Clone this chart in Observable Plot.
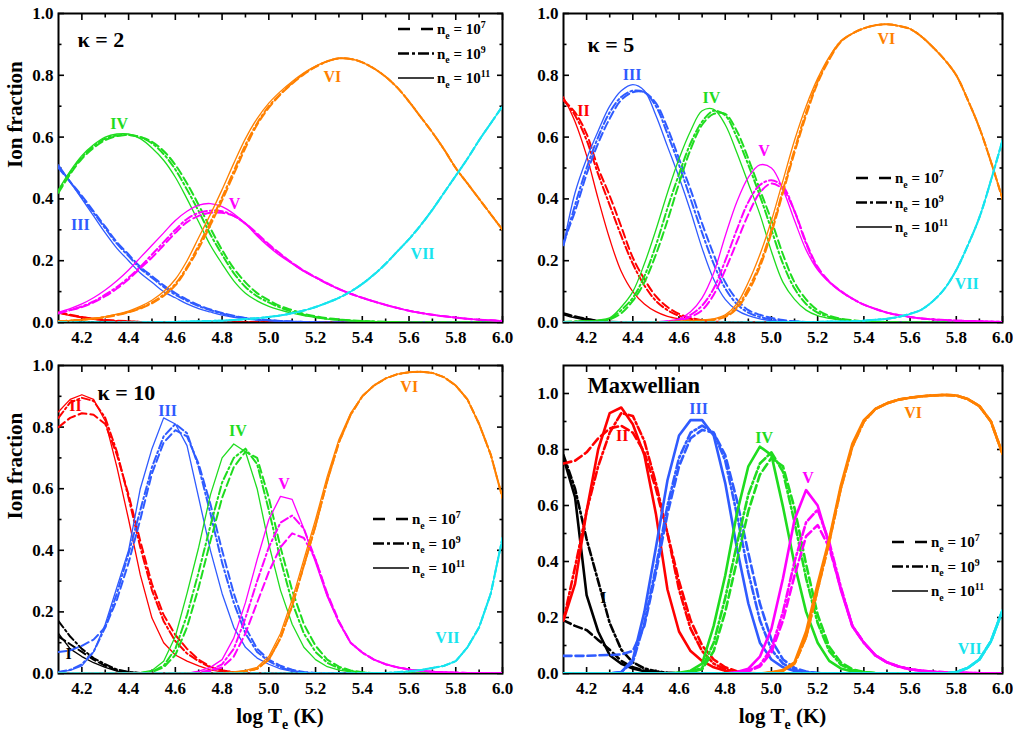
<!DOCTYPE html>
<html><head><meta charset="utf-8">
<script src="https://cdn.jsdelivr.net/npm/d3@7"></script>
<script src="https://cdn.jsdelivr.net/npm/@observablehq/plot@0.6"></script>
<style>
body{margin:0;background:#fff;}
#fig{position:relative;width:1013px;height:731px;overflow:hidden;}
#fig svg{position:absolute;overflow:visible;}
</style></head><body><div id="fig"></div>
<script>
// ---------- shared grid (log T_e) ----------
const logT = [4.10,4.15,4.20,4.25,4.30,4.35,4.40,4.45,4.50,4.55,4.60,4.65,4.70,4.75,4.80,4.85,4.90,4.95,5.00,5.05,5.10,5.15,5.20,5.25,5.30,5.35,5.40,5.45,5.50,5.55,5.60,5.65,5.70,5.75,5.80,5.85,5.90,5.95,6.00];
const xMajor = [4.2,4.4,4.6,4.8,5.0,5.2,5.4,5.6,5.8,6.0];
const xMinor = [4.3,4.5,4.7,4.9,5.1,5.3,5.5,5.7,5.9];
const yMajor = [0,0.2,0.4,0.6,0.8,1.0];
const yMinor = [0.1,0.3,0.5,0.7,0.9];
const ions = ["I","II","III","IV","V","VI","VII"];
const densities = ["n7","n9","n11"];
const densityExp = ["7","9","11"];

// ---------- kappa = 2 ----------
const k2_I = [0.004,0.003,0.002,0.001,0,0,0,0,0,0, 0,0,0,0,0,0,0,0,0,0, 0,0,0,0,0,0,0,0,0,0, 0,0,0,0,0,0,0,0,0];
const k2_II_n7 = [0.033,0.025,0.018,0.012,0.008,0.006,0.004,0.002,0.001,0, 0,0,0,0,0,0,0,0,0,0, 0,0,0,0,0,0,0,0,0,0, 0,0,0,0,0,0,0,0,0];
const k2_II_n9 = [0.032,0.024,0.017,0.012,0.008,0.005,0.003,0.002,0.001,0, 0,0,0,0,0,0,0,0,0,0, 0,0,0,0,0,0,0,0,0,0, 0,0,0,0,0,0,0,0,0];
const k2_II_n11 = [0.030,0.022,0.015,0.010,0.007,0.005,0.003,0.002,0.001,0, 0,0,0,0,0,0,0,0,0,0, 0,0,0,0,0,0,0,0,0,0, 0,0,0,0,0,0,0,0,0];
const k2_III_n7 = [0.50,0.455,0.41,0.36,0.31,0.26,0.22,0.18,0.15,0.12, 0.095,0.074,0.056,0.042,0.031,0.022,0.015,0.011,0.008,0.005, 0.003,0.002,0.001,0,0,0,0,0,0,0, 0,0,0,0,0,0,0,0,0];
const k2_III_n9 = [0.505,0.455,0.405,0.355,0.305,0.255,0.215,0.175,0.145,0.115, 0.09,0.07,0.053,0.04,0.029,0.02,0.014,0.01,0.007,0.005, 0.003,0.002,0.001,0,0,0,0,0,0,0, 0,0,0,0,0,0,0,0,0];
const k2_III_n11 = [0.51,0.455,0.40,0.345,0.29,0.24,0.20,0.16,0.13,0.10, 0.08,0.06,0.045,0.034,0.024,0.017,0.012,0.008,0.006,0.004, 0.003,0.002,0.001,0,0,0,0,0,0,0, 0,0,0,0,0,0,0,0,0];
const k2_IV_n7 = [0.42,0.48,0.53,0.565,0.59,0.603,0.607,0.60,0.585,0.555, 0.51,0.45,0.38,0.305,0.235,0.175,0.13,0.095,0.072,0.053, 0.04,0.028,0.02,0.014,0.01,0.007,0.005,0.003,0.002,0.001, 0,0,0,0,0,0,0,0,0];
const k2_IV_n9 = [0.425,0.485,0.535,0.57,0.595,0.605,0.607,0.60,0.58,0.545, 0.495,0.43,0.36,0.285,0.22,0.16,0.115,0.085,0.065,0.048, 0.035,0.025,0.018,0.012,0.009,0.006,0.004,0.003,0.002,0.001, 0,0,0,0,0,0,0,0,0];
const k2_IV_n11 = [0.43,0.49,0.54,0.575,0.60,0.61,0.61,0.595,0.565,0.525, 0.47,0.40,0.325,0.25,0.19,0.135,0.095,0.07,0.052,0.04, 0.03,0.022,0.016,0.011,0.008,0.006,0.004,0.003,0.002,0.001, 0,0,0,0,0,0,0,0,0];
const k2_V_n7 = [0.03,0.04,0.05,0.065,0.085,0.11,0.14,0.175,0.21,0.25, 0.29,0.325,0.345,0.355,0.355,0.345,0.32,0.288,0.253,0.222, 0.193,0.168,0.147,0.127,0.109,0.093,0.08,0.068,0.057,0.047, 0.038,0.031,0.025,0.02,0.016,0.012,0.009,0.007,0.005];
const k2_V_n9 = [0.03,0.04,0.052,0.068,0.09,0.115,0.145,0.18,0.22,0.26, 0.30,0.335,0.355,0.362,0.36,0.345,0.32,0.285,0.25,0.22, 0.192,0.167,0.146,0.126,0.108,0.093,0.08,0.068,0.057,0.047, 0.038,0.031,0.025,0.02,0.016,0.012,0.009,0.007,0.005];
const k2_V_n11 = [0.033,0.045,0.06,0.08,0.105,0.135,0.17,0.21,0.25,0.29, 0.33,0.36,0.38,0.385,0.375,0.352,0.32,0.28,0.245,0.215, 0.19,0.165,0.145,0.125,0.108,0.093,0.08,0.068,0.057,0.047, 0.038,0.031,0.025,0.02,0.016,0.012,0.009,0.007,0.005];
const k2_VI_n7 = [0.004,0.006,0.009,0.012,0.017,0.024,0.033,0.045,0.062,0.086, 0.12,0.175,0.24,0.315,0.395,0.48,0.565,0.64,0.695,0.738, 0.773,0.803,0.827,0.845,0.855,0.853,0.842,0.822,0.795,0.76, 0.715,0.665,0.615,0.56,0.50,0.45,0.40,0.35,0.30];
const k2_VI_n9 = [0.004,0.006,0.009,0.013,0.018,0.025,0.034,0.047,0.065,0.09, 0.125,0.18,0.25,0.325,0.405,0.49,0.575,0.645,0.70,0.74, 0.775,0.805,0.828,0.845,0.855,0.853,0.842,0.822,0.795,0.76, 0.715,0.665,0.615,0.56,0.50,0.45,0.40,0.35,0.30];
const k2_VI_n11 = [0.004,0.006,0.009,0.013,0.019,0.027,0.037,0.052,0.072,0.10, 0.14,0.20,0.275,0.35,0.43,0.515,0.595,0.66,0.71,0.748, 0.78,0.808,0.83,0.846,0.855,0.853,0.842,0.822,0.795,0.76, 0.715,0.665,0.615,0.56,0.50,0.45,0.40,0.35,0.30];
const k2_VII = [0,0,0,0,0,0,0,0,0.001,0.001, 0.002,0.003,0.004,0.005,0.006,0.008,0.011,0.014,0.018,0.023, 0.03,0.039,0.05,0.064,0.08,0.10,0.125,0.155,0.19,0.23, 0.27,0.315,0.365,0.42,0.475,0.53,0.59,0.645,0.70];
const k2_labels = [["IV",4.36,0.644],["III",4.194,0.317],["V",4.853,0.385],["VI",5.272,0.796],["VII",5.658,0.223]];

// ---------- kappa = 5 ----------
const k5_I_n7 = [0.03,0.02,0.012,0.006,0.003,0.001,0,0,0,0, 0,0,0,0,0,0,0,0,0,0, 0,0,0,0,0,0,0,0,0,0, 0,0,0,0,0,0,0,0,0];
const k5_I_n9 = [0.028,0.018,0.011,0.005,0.002,0.001,0,0,0,0, 0,0,0,0,0,0,0,0,0,0, 0,0,0,0,0,0,0,0,0,0, 0,0,0,0,0,0,0,0,0];
const k5_I_n11 = [0.025,0.015,0.008,0.004,0.002,0.001,0,0,0,0, 0,0,0,0,0,0,0,0,0,0, 0,0,0,0,0,0,0,0,0,0, 0,0,0,0,0,0,0,0,0];
const k5_II_n7 = [0.72,0.68,0.61,0.50,0.41,0.31,0.21,0.14,0.085,0.05, 0.028,0.015,0.007,0.003,0.001,0,0,0,0,0, 0,0,0,0,0,0,0,0,0,0, 0,0,0,0,0,0,0,0,0];
const k5_II_n9 = [0.72,0.67,0.59,0.48,0.38,0.28,0.19,0.12,0.07,0.04, 0.022,0.012,0.006,0.003,0.001,0,0,0,0,0, 0,0,0,0,0,0,0,0,0,0, 0,0,0,0,0,0,0,0,0];
const k5_II_n11 = [0.73,0.65,0.54,0.40,0.27,0.165,0.10,0.06,0.035,0.02, 0.012,0.007,0.004,0.002,0.001,0,0,0,0,0, 0,0,0,0,0,0,0,0,0,0, 0,0,0,0,0,0,0,0,0];
const k5_III_n7 = [0.26,0.36,0.48,0.58,0.66,0.72,0.745,0.745,0.71,0.63, 0.53,0.43,0.32,0.22,0.13,0.075,0.04,0.025,0.015,0.008, 0.004,0.002,0.001,0,0,0,0,0,0,0, 0,0,0,0,0,0,0,0,0];
const k5_III_n9 = [0.25,0.38,0.50,0.60,0.68,0.73,0.75,0.745,0.70,0.61, 0.51,0.40,0.29,0.19,0.11,0.06,0.032,0.018,0.01,0.005, 0.003,0.001,0,0,0,0,0,0,0,0, 0,0,0,0,0,0,0,0,0];
const k5_III_n11 = [0.25,0.42,0.53,0.62,0.70,0.75,0.77,0.75,0.67,0.57, 0.47,0.36,0.24,0.14,0.075,0.04,0.022,0.012,0.006,0.003, 0.002,0.001,0,0,0,0,0,0,0,0, 0,0,0,0,0,0,0,0,0];
const k5_IV_n7 = [0.002,0.003,0.004,0.005,0.01,0.03,0.07,0.13,0.22,0.33, 0.45,0.56,0.64,0.675,0.675,0.62,0.53,0.43,0.33,0.22, 0.13,0.075,0.04,0.022,0.012,0.007,0.004,0.002,0.001,0, 0,0,0,0,0,0,0,0,0];
const k5_IV_n9 = [0.002,0.003,0.004,0.006,0.012,0.04,0.08,0.15,0.25,0.37, 0.48,0.58,0.65,0.685,0.67,0.60,0.51,0.41,0.30,0.19, 0.11,0.06,0.032,0.018,0.01,0.006,0.004,0.002,0.001,0, 0,0,0,0,0,0,0,0,0];
const k5_IV_n11 = [0.002,0.003,0.005,0.008,0.015,0.05,0.10,0.19,0.30,0.42, 0.53,0.62,0.685,0.69,0.64,0.55,0.45,0.35,0.23,0.13, 0.075,0.04,0.022,0.013,0.008,0.005,0.003,0.002,0.001,0, 0,0,0,0,0,0,0,0,0];
const k5_V_n7 = [0,0,0,0,0,0,0,0,0.001,0.002, 0.006,0.018,0.04,0.09,0.17,0.26,0.35,0.42,0.45,0.43, 0.36,0.26,0.18,0.133,0.102,0.077,0.058,0.044,0.032,0.024, 0.018,0.013,0.01,0.008,0.006,0.005,0.004,0.003,0.002];
const k5_V_n9 = [0,0,0,0,0,0,0,0,0.001,0.003, 0.008,0.025,0.055,0.11,0.20,0.30,0.39,0.445,0.46,0.44, 0.36,0.255,0.175,0.132,0.101,0.077,0.058,0.044,0.032,0.024, 0.018,0.013,0.01,0.008,0.006,0.005,0.004,0.003,0.002];
const k5_V_n11 = [0,0,0,0,0,0,0,0,0.002,0.005, 0.012,0.035,0.08,0.16,0.28,0.39,0.47,0.51,0.50,0.43, 0.33,0.235,0.17,0.13,0.10,0.077,0.058,0.044,0.032,0.024, 0.018,0.013,0.01,0.008,0.006,0.005,0.004,0.003,0.002];
const k5_VI_n7 = [0,0,0,0,0,0,0,0,0.001,0.002, 0.003,0.004,0.006,0.009,0.018,0.045,0.10,0.18,0.29,0.42, 0.55,0.67,0.775,0.85,0.908,0.935,0.952,0.962,0.965,0.96, 0.95,0.925,0.89,0.85,0.80,0.72,0.63,0.52,0.40];
const k5_VI_n9 = [0,0,0,0,0,0,0,0,0.001,0.002, 0.003,0.005,0.007,0.01,0.02,0.05,0.11,0.19,0.30,0.43, 0.56,0.68,0.78,0.855,0.91,0.935,0.952,0.962,0.965,0.96, 0.95,0.925,0.89,0.85,0.80,0.72,0.63,0.52,0.40];
const k5_VI_n11 = [0,0,0,0,0,0,0,0,0.001,0.002, 0.003,0.005,0.008,0.012,0.025,0.06,0.13,0.22,0.33,0.46, 0.59,0.70,0.79,0.86,0.91,0.935,0.952,0.962,0.965,0.96, 0.95,0.925,0.89,0.85,0.80,0.72,0.63,0.52,0.40];
const k5_VII = [0,0,0,0,0,0,0,0,0,0, 0,0,0,0,0,0,0,0,0.001,0.001, 0.002,0.002,0.002,0.003,0.003,0.004,0.006,0.009,0.012,0.018, 0.028,0.042,0.07,0.11,0.17,0.25,0.34,0.46,0.59];
const k5_labels = [["II",4.186,0.686],["III",4.397,0.80],["IV",4.74,0.728],["V",4.968,0.557],["VI",5.497,0.919],["VII",5.845,0.126]];

// ---------- kappa = 10 ----------
const k10_I_n7 = [0.12,0.095,0.07,0.045,0.025,0.01,0.004,0.001,0,0, 0,0,0,0,0,0,0,0,0,0, 0,0,0,0,0,0,0,0,0,0, 0,0,0,0,0,0,0,0,0];
const k10_I_n9 = [0.17,0.12,0.08,0.05,0.03,0.013,0.005,0.002,0,0, 0,0,0,0,0,0,0,0,0,0, 0,0,0,0,0,0,0,0,0,0, 0,0,0,0,0,0,0,0,0];
const k10_I_n11 = [0.13,0.08,0.055,0.035,0.02,0.008,0.003,0.001,0,0, 0,0,0,0,0,0,0,0,0,0, 0,0,0,0,0,0,0,0,0,0, 0,0,0,0,0,0,0,0,0];
const k10_II_n7 = [0.80,0.83,0.845,0.84,0.81,0.71,0.58,0.43,0.29,0.19, 0.125,0.08,0.045,0.022,0.01,0.004,0.001,0,0,0, 0,0,0,0,0,0,0,0,0,0, 0,0,0,0,0,0,0,0,0];
const k10_II_n9 = [0.83,0.88,0.895,0.885,0.83,0.72,0.57,0.41,0.27,0.17, 0.105,0.065,0.04,0.02,0.01,0.004,0.001,0,0,0, 0,0,0,0,0,0,0,0,0,0, 0,0,0,0,0,0,0,0,0];
const k10_II_n11 = [0.85,0.89,0.905,0.89,0.82,0.67,0.50,0.32,0.18,0.10, 0.06,0.04,0.025,0.012,0.005,0.002,0,0,0,0, 0,0,0,0,0,0,0,0,0,0, 0,0,0,0,0,0,0,0,0];
const k10_III_n7 = [0.07,0.075,0.09,0.11,0.15,0.24,0.36,0.50,0.65,0.75, 0.79,0.77,0.68,0.55,0.40,0.26,0.15,0.08,0.045,0.025, 0.012,0.005,0.002,0,0,0,0,0,0,0, 0,0,0,0,0,0,0,0,0];
const k10_III_n9 = [0.005,0.012,0.03,0.07,0.15,0.26,0.39,0.53,0.67,0.77, 0.81,0.78,0.67,0.52,0.36,0.23,0.13,0.07,0.04,0.02, 0.008,0.003,0.001,0,0,0,0,0,0,0, 0,0,0,0,0,0,0,0,0];
const k10_III_n11 = [0.005,0.01,0.025,0.07,0.16,0.28,0.40,0.60,0.73,0.83, 0.81,0.74,0.57,0.40,0.26,0.15,0.085,0.05,0.03,0.015, 0.007,0.003,0.001,0,0,0,0,0,0,0, 0,0,0,0,0,0,0,0,0];
const k10_IV_n7 = [0,0,0,0,0,0,0,0.001,0.005,0.02, 0.06,0.15,0.28,0.43,0.57,0.67,0.72,0.70,0.57,0.41, 0.27,0.16,0.09,0.045,0.022,0.01,0.004,0.001,0,0, 0,0,0,0,0,0,0,0,0];
const k10_IV_n9 = [0,0,0,0,0,0,0,0.002,0.006,0.025, 0.08,0.19,0.33,0.48,0.62,0.70,0.73,0.68,0.53,0.37, 0.23,0.13,0.07,0.035,0.017,0.008,0.003,0.001,0,0, 0,0,0,0,0,0,0,0,0];
const k10_IV_n11 = [0,0,0,0,0,0,0,0.003,0.01,0.04, 0.12,0.26,0.41,0.58,0.70,0.745,0.72,0.60,0.42,0.27, 0.16,0.085,0.045,0.022,0.011,0.005,0.002,0,0,0, 0,0,0,0,0,0,0,0,0];
const k10_V_n7 = [0,0,0,0,0,0,0,0,0,0, 0,0,0.003,0.008,0.02,0.055,0.13,0.23,0.33,0.41, 0.455,0.44,0.37,0.26,0.17,0.10,0.068,0.045,0.03,0.02, 0.013,0.009,0.006,0.004,0.003,0.002,0.002,0.001,0.001];
const k10_V_n9 = [0,0,0,0,0,0,0,0,0,0, 0,0,0.004,0.01,0.03,0.08,0.18,0.30,0.41,0.49, 0.513,0.47,0.37,0.255,0.167,0.10,0.068,0.045,0.03,0.02, 0.013,0.009,0.006,0.004,0.003,0.002,0.002,0.001,0.001];
const k10_V_n11 = [0,0,0,0,0,0,0,0,0,0, 0,0,0.008,0.02,0.045,0.115,0.23,0.37,0.50,0.575, 0.565,0.47,0.36,0.25,0.165,0.10,0.068,0.045,0.03,0.02, 0.013,0.009,0.006,0.004,0.003,0.002,0.002,0.001,0.001];
const k10_VI_n7 = [0,0,0,0,0,0,0,0,0,0, 0,0,0,0,0.001,0.003,0.007,0.015,0.045,0.115, 0.22,0.35,0.48,0.625,0.75,0.84,0.90,0.935,0.958,0.972, 0.978,0.98,0.976,0.962,0.935,0.89,0.81,0.71,0.57];
const k10_VI_n9 = [0,0,0,0,0,0,0,0,0,0, 0,0,0,0,0.001,0.003,0.007,0.015,0.045,0.115, 0.22,0.35,0.48,0.625,0.75,0.84,0.90,0.935,0.958,0.972, 0.978,0.98,0.976,0.962,0.935,0.89,0.81,0.71,0.57];
const k10_VI_n11 = [0,0,0,0,0,0,0,0,0,0, 0,0,0,0,0.002,0.005,0.01,0.02,0.055,0.13, 0.24,0.37,0.50,0.64,0.76,0.845,0.90,0.935,0.958,0.972, 0.978,0.98,0.976,0.962,0.935,0.89,0.81,0.71,0.57];
const k10_VII = [0,0,0,0,0,0,0,0,0,0, 0,0,0,0,0,0,0,0,0,0, 0,0,0,0,0,0,0.001,0.001,0.002,0.004, 0.007,0.011,0.018,0.025,0.04,0.085,0.15,0.26,0.44];
const k10_labels = [["I",4.143,0.065],["II",4.173,0.87],["III",4.567,0.854],["IV",4.868,0.789],["V",5.065,0.617],["VI",5.601,0.929],["VII",5.764,0.117]];

// ---------- Maxwellian ----------
const mx_I_n7 = [0.19,0.17,0.155,0.12,0.085,0.045,0.022,0.01,0.004,0.001, 0,0,0,0,0,0,0,0,0,0, 0,0,0,0,0,0,0,0,0,0, 0,0,0,0,0,0,0,0,0];
const mx_I_n9 = [0.78,0.66,0.48,0.33,0.18,0.085,0.04,0.018,0.008,0.003, 0.001,0,0,0,0,0,0,0,0,0, 0,0,0,0,0,0,0,0,0,0, 0,0,0,0,0,0,0,0,0];
const mx_I_n11 = [0.77,0.63,0.28,0.15,0.065,0.035,0.018,0.008,0.003,0.001, 0,0,0,0,0,0,0,0,0,0, 0,0,0,0,0,0,0,0,0,0, 0,0,0,0,0,0,0,0,0];
const mx_II_n7 = [0.75,0.76,0.79,0.84,0.875,0.885,0.86,0.79,0.66,0.50, 0.33,0.19,0.10,0.05,0.022,0.008,0.002,0,0,0, 0,0,0,0,0,0,0,0,0,0, 0,0,0,0,0,0,0,0,0];
const mx_II_n9 = [0.19,0.38,0.58,0.74,0.86,0.93,0.92,0.83,0.68,0.50, 0.30,0.16,0.08,0.035,0.015,0.005,0.002,0,0,0, 0,0,0,0,0,0,0,0,0,0, 0,0,0,0,0,0,0,0,0];
const mx_II_n11 = [0.19,0.32,0.58,0.80,0.93,0.95,0.89,0.78,0.57,0.30, 0.15,0.08,0.045,0.022,0.01,0.004,0.001,0,0,0, 0,0,0,0,0,0,0,0,0,0, 0,0,0,0,0,0,0,0,0];
const mx_III_n7 = [0.063,0.063,0.063,0.065,0.066,0.068,0.08,0.17,0.36,0.57, 0.74,0.84,0.87,0.86,0.78,0.62,0.43,0.25,0.12,0.05, 0.02,0.007,0.002,0,0,0,0,0,0,0, 0,0,0,0,0,0,0,0,0];
const mx_III_n9 = [0,0,0,0,0,0.005,0.04,0.18,0.38,0.60, 0.77,0.86,0.885,0.86,0.76,0.57,0.36,0.19,0.085,0.035, 0.013,0.004,0.001,0,0,0,0,0,0,0, 0,0,0,0,0,0,0,0,0];
const mx_III_n11 = [0,0,0,0,0,0.005,0.05,0.22,0.45,0.69, 0.85,0.905,0.905,0.85,0.68,0.45,0.25,0.11,0.05,0.022, 0.009,0.003,0.001,0,0,0,0,0,0,0, 0,0,0,0,0,0,0,0,0];
const mx_IV_n7 = [0,0,0,0,0,0,0,0,0,0, 0.001,0.005,0.015,0.08,0.22,0.40,0.58,0.71,0.77,0.74, 0.59,0.39,0.21,0.095,0.04,0.015,0.005,0.001,0,0, 0,0,0,0,0,0,0,0,0];
const mx_IV_n9 = [0,0,0,0,0,0,0,0,0,0, 0.001,0.006,0.02,0.11,0.27,0.46,0.64,0.75,0.79,0.72, 0.54,0.34,0.18,0.08,0.032,0.012,0.004,0.001,0,0, 0,0,0,0,0,0,0,0,0];
const mx_IV_n11 = [0,0,0,0,0,0,0,0,0,0, 0.003,0.01,0.035,0.17,0.35,0.57,0.74,0.81,0.78,0.595, 0.39,0.22,0.11,0.045,0.018,0.007,0.003,0.001,0,0, 0,0,0,0,0,0,0,0,0];
const mx_V_n7 = [0,0,0,0,0,0,0,0,0,0, 0,0,0,0,0,0.002,0.008,0.025,0.075,0.19, 0.35,0.49,0.53,0.45,0.305,0.17,0.11,0.065,0.04,0.025, 0.015,0.01,0.006,0.004,0.003,0.002,0.001,0,0];
const mx_V_n9 = [0,0,0,0,0,0,0,0,0,0, 0,0,0,0,0,0.003,0.01,0.03,0.09,0.22, 0.40,0.54,0.585,0.47,0.31,0.17,0.11,0.065,0.04,0.025, 0.015,0.01,0.006,0.004,0.003,0.002,0.001,0,0];
const mx_V_n11 = [0,0,0,0,0,0,0,0,0,0, 0,0,0,0,0,0.005,0.017,0.06,0.16,0.34, 0.55,0.655,0.60,0.46,0.30,0.17,0.11,0.065,0.04,0.025, 0.015,0.01,0.006,0.004,0.003,0.002,0.001,0,0];
const mx_VI_n7 = [0,0,0,0,0,0,0,0,0,0, 0,0,0,0,0,0,0,0,0.003,0.01, 0.035,0.13,0.30,0.47,0.66,0.81,0.90,0.945,0.965,0.978, 0.985,0.99,0.993,0.995,0.993,0.98,0.955,0.90,0.785];
const mx_VI_n9 = [0,0,0,0,0,0,0,0,0,0, 0,0,0,0,0,0,0,0,0.003,0.01, 0.035,0.13,0.30,0.47,0.66,0.81,0.90,0.945,0.965,0.978, 0.985,0.99,0.993,0.995,0.993,0.98,0.955,0.90,0.785];
const mx_VI_n11 = [0,0,0,0,0,0,0,0,0,0, 0,0,0,0,0,0,0,0,0.004,0.012, 0.04,0.15,0.32,0.48,0.67,0.82,0.905,0.945,0.965,0.978, 0.985,0.99,0.993,0.995,0.993,0.98,0.955,0.90,0.785];
const mx_VII = [0,0,0,0,0,0,0,0,0,0, 0,0,0,0,0,0,0,0,0,0, 0,0,0,0,0,0,0,0,0,0, 0,0,0,0,0.005,0.02,0.05,0.115,0.225];
const mx_labels = [["I",4.272,0.271],["II",4.354,0.85],["III",4.685,0.946],["IV",4.968,0.843],["V",5.158,0.70],["VI",5.613,0.932],["VII",5.858,0.089]];

// ---------- series tables ----------
const k2_series = [["I","n7",k2_I],["I","n9",k2_I],["I","n11",k2_I],["II","n7",k2_II_n7],["II","n9",k2_II_n9],["II","n11",k2_II_n11],["III","n7",k2_III_n7],["III","n9",k2_III_n9],["III","n11",k2_III_n11],["IV","n7",k2_IV_n7],["IV","n9",k2_IV_n9],["IV","n11",k2_IV_n11],["V","n7",k2_V_n7],["V","n9",k2_V_n9],["V","n11",k2_V_n11],["VI","n7",k2_VI_n7],["VI","n9",k2_VI_n9],["VI","n11",k2_VI_n11],["VII","n7",k2_VII],["VII","n9",k2_VII],["VII","n11",k2_VII]];
const k5_series = [["I","n7",k5_I_n7],["I","n9",k5_I_n9],["I","n11",k5_I_n11],["II","n7",k5_II_n7],["II","n9",k5_II_n9],["II","n11",k5_II_n11],["III","n7",k5_III_n7],["III","n9",k5_III_n9],["III","n11",k5_III_n11],["IV","n7",k5_IV_n7],["IV","n9",k5_IV_n9],["IV","n11",k5_IV_n11],["V","n7",k5_V_n7],["V","n9",k5_V_n9],["V","n11",k5_V_n11],["VI","n7",k5_VI_n7],["VI","n9",k5_VI_n9],["VI","n11",k5_VI_n11],["VII","n7",k5_VII],["VII","n9",k5_VII],["VII","n11",k5_VII]];
const k10_series = [["I","n7",k10_I_n7],["I","n9",k10_I_n9],["I","n11",k10_I_n11],["II","n7",k10_II_n7],["II","n9",k10_II_n9],["II","n11",k10_II_n11],["III","n7",k10_III_n7],["III","n9",k10_III_n9],["III","n11",k10_III_n11],["IV","n7",k10_IV_n7],["IV","n9",k10_IV_n9],["IV","n11",k10_IV_n11],["V","n7",k10_V_n7],["V","n9",k10_V_n9],["V","n11",k10_V_n11],["VI","n7",k10_VI_n7],["VI","n9",k10_VI_n9],["VI","n11",k10_VI_n11],["VII","n7",k10_VII],["VII","n9",k10_VII],["VII","n11",k10_VII]];
const mx_series = [["I","n7",mx_I_n7],["I","n9",mx_I_n9],["I","n11",mx_I_n11],["II","n7",mx_II_n7],["II","n9",mx_II_n9],["II","n11",mx_II_n11],["III","n7",mx_III_n7],["III","n9",mx_III_n9],["III","n11",mx_III_n11],["IV","n7",mx_IV_n7],["IV","n9",mx_IV_n9],["IV","n11",mx_IV_n11],["V","n7",mx_V_n7],["V","n9",mx_V_n9],["V","n11",mx_V_n11],["VI","n7",mx_VI_n7],["VI","n9",mx_VI_n9],["VI","n11",mx_VI_n11],["VII","n7",mx_VII],["VII","n9",mx_VII],["VII","n11",mx_VII]];

// ---------- styles ----------
const FONT = "'Liberation Serif','Times New Roman',serif";
const ionColor = {I:"#000000",II:"#ff0000",III:"#2f5bff",IV:"#1fdc1f",V:"#ff00ff",VI:"#ff8000",VII:"#17e4ee"};
const curveDash = {n7:"8,4", n9:"8,3,2,3", n11:null};
const legendDash = {n7:"12,11", n9:"11,3,3,3", n11:null};

const panels = [
  {series:k2_series, labels:k2_labels, title:"κ = 2", left:0, top:0, width:506, height:350, mt:13, mr:4, mb:28, ml:58, yMax:1.0, curve:"catmull-rom", wSolid:1.3, wDash:2.0, titleSize:22, titleDx:19, titleDy:26, yTitle:true, xTitle:false, legDx:104, legDy:16},
  {series:k5_series, labels:k5_labels, title:"κ = 5", left:506, top:0, width:507, height:350, mt:13, mr:11, mb:28, ml:57, yMax:1.0, curve:"catmull-rom", wSolid:1.3, wDash:2.0, titleSize:22, titleDx:24, titleDy:31, yTitle:false, xTitle:false, legDx:146, legDy:165},
  {series:k10_series, labels:k10_labels, title:"κ = 10", left:0, top:350, width:506, height:381, mt:15, mr:4, mb:58, ml:58, yMax:1.0, curve:"linear", wSolid:1.3, wDash:2.0, titleSize:22, titleDx:39, titleDy:27, yTitle:true, xTitle:true, legDx:129, legDy:154},
  {series:mx_series, labels:mx_labels, title:"Maxwellian", left:506, top:350, width:507, height:381, mt:15, mr:11, mb:58, ml:57, yMax:1.1, curve:"linear", wSolid:2.6, wDash:2.6, titleSize:22.5, titleDx:24, titleDy:20, yTitle:false, xTitle:true, legDx:110, legDy:177}
];

const fig = document.getElementById("fig");
const fmt = d3.format(".1f");
const blank = () => "";

function richText(parent, x, y, parts, size, anchor) {
  const t = parent.append("text").attr("x", x).attr("y", y)
    .attr("font-family", FONT).attr("font-weight", "bold").attr("font-size", size)
    .attr("fill", "black").attr("text-anchor", anchor || "start");
  let shift = 0;
  parts.forEach(([s, kind]) => {
    const target = kind === "sub" ? size * 0.3 : kind === "sup" ? -size * 0.4 : 0;
    const ts = t.append("tspan").attr("dy", target - shift).text(s);
    if (kind) ts.attr("font-size", size * 0.66);
    shift = target;
  });
  return t;
}

panels.forEach(p => {
  const tick = {stroke:"black", strokeWidth:1.6, label:null};
  const marks = [
    Plot.frame({stroke:"black", strokeWidth:2}),
    Plot.axisX({ticks:xMajor, anchor:"bottom", tickSize:-6, tickFormat:blank, ...tick}),
    Plot.axisX({ticks:xMinor, anchor:"bottom", tickSize:-3.5, tickFormat:blank, ...tick}),
    Plot.axisX({ticks:xMajor, anchor:"top", tickSize:-6, tickFormat:blank, ...tick}),
    Plot.axisX({ticks:xMinor, anchor:"top", tickSize:-3.5, tickFormat:blank, ...tick}),
    Plot.axisY({ticks:yMajor, anchor:"left", tickSize:-6, tickFormat:blank, ...tick}),
    Plot.axisY({ticks:yMinor, anchor:"left", tickSize:-3.5, tickFormat:blank, ...tick}),
    Plot.axisY({ticks:yMajor, anchor:"right", tickSize:-6, tickFormat:blank, ...tick}),
    Plot.axisY({ticks:yMinor, anchor:"right", tickSize:-3.5, tickFormat:blank, ...tick})
  ];
  p.series.forEach(([ion, ne, vals]) => {
    const rows = logT.map((x, i) => ({x, y: vals[i]}));
    const opts = {x:"x", y:"y", stroke: ionColor[ion], strokeWidth: ne === "n11" ? p.wSolid : p.wDash, curve: p.curve, clip: true};
    if (curveDash[ne]) opts.strokeDasharray = curveDash[ne];
    marks.push(Plot.line(rows, opts));
  });
  p.labels.forEach(([name, x, y]) => {
    marks.push(Plot.text([name], {x: () => x, y: () => y, text: d => d, fill: ionColor[name], fontSize: 16, fontWeight: "bold"}));
  });
  marks.push(Plot.text([p.title], {frameAnchor:"top-left", dx:p.titleDx, dy:p.titleDy, textAnchor:"start", lineAnchor:"middle", fontSize:p.titleSize, fontWeight:"bold"}));
  marks.push(Plot.axisX({ticks:xMajor, anchor:"bottom", tickSize:0, tickPadding:8, tickFormat:fmt, label:null, fontSize:17}));
  marks.push(Plot.axisY({ticks:yMajor, anchor:"left", tickSize:0, tickPadding:5, tickFormat:fmt, label:null, fontSize:17}));
  if (p.yTitle) marks.push(Plot.text(["Ion fraction"], {frameAnchor:"left", dx:-43, rotate:-90, fontSize:21, fontWeight:"bold"}));

  const svg = Plot.plot({
    width: p.width, height: p.height,
    marginTop: p.mt, marginRight: p.mr, marginBottom: p.mb, marginLeft: p.ml,
    x: {domain:[4.1, 6.0], label:null},
    y: {domain:[0, p.yMax], label:null},
    style: {fontFamily: FONT, fontSize: "17px", fontWeight: "bold", background: "transparent", overflow: "visible", color: "black"},
    marks
  });
  svg.style.left = p.left + "px";
  svg.style.top = p.top + "px";
  fig.appendChild(svg);

  // frame geometry
  const fr = {left: p.ml, right: p.width - p.mr, top: p.mt, bottom: p.height - p.mb};
  const g = d3.select(svg).append("g");
  densities.forEach((ne, i) => {
    const y = fr.top + p.legDy + i * 24.5;
    const x0 = fr.right - p.legDx;
    const ln = g.append("line").attr("x1", x0).attr("x2", x0 + 36).attr("y1", y).attr("y2", y)
      .attr("stroke", "black").attr("stroke-width", ne === "n11" ? 1.6 : 2.4);
    if (legendDash[ne]) ln.attr("stroke-dasharray", legendDash[ne]);
    richText(g, x0 + 39, y + 5, [["n", null], ["e", "sub"], [" = 10", null], [densityExp[i], "sup"]], 15);
  });
  if (p.xTitle) {
    richText(g, (fr.left + fr.right) / 2, fr.bottom + 50, [["log T", null], ["e", "sub"], [" (K)", null]], 21, "middle");
  }
});
</script>
</body></html>
